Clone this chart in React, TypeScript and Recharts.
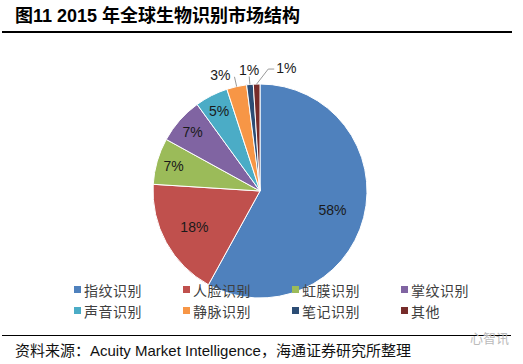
import { PieChart, Pie, Cell } from 'recharts';

const names = ['指纹识别', '人脸识别', '虹膜识别', '掌纹识别', '声音识别', '静脉识别', '笔记识别', '其他'];
const shares = [58, 18, 7, 7, 5, 3, 1, 1];
const colors = ['#4F81BD', '#C0504D', '#9BBB59', '#8064A2', '#4BACC6', '#F79646', '#2C4D75', '#772C2A'];

const data = names.map((name, i) => ({ name, value: shares[i] }));

const FONT = "'Liberation Sans', Arial, 'Noto Sans CJK SC', sans-serif";
const RADIAN = Math.PI / 180;

const polar = (cx: number, cy: number, r: number, angle: number) => ({
  x: cx + r * Math.cos(-angle * RADIAN),
  y: cy + r * Math.sin(-angle * RADIAN),
});

const renderLabel = (props: any) => {
  const { cx, cy, midAngle, outerRadius, value, index } = props;
  const text = `${value}%`;
  if (value >= 5) {
    const k = value >= 10 ? 0.7 : 0.84;
    const p = polar(cx, cy, outerRadius * k, midAngle);
    return (
      <text x={p.x} y={p.y} fill="#1a1a1a" fontSize={14} fontFamily={FONT} textAnchor="middle" dominantBaseline="central">
        {text}
      </text>
    );
  }
  // small slices: outside with leader line
  const firstSmall = shares.findIndex((v) => v < 5);
  const k = index - firstSmall;
  const start = polar(cx, cy, outerRadius, midAngle);
  if (k === 0) {
    const e = polar(cx, cy, outerRadius + 10, midAngle);
    return (
      <g>
        <polyline points={`${start.x},${start.y} ${e.x},${e.y}`} stroke="#999" fill="none" strokeWidth={1} />
        <text x={e.x - 4} y={e.y - 2} fill="#1a1a1a" fontSize={14} fontFamily={FONT} textAnchor="end" dominantBaseline="central">
          {text}
        </text>
      </g>
    );
  }
  if (k === 1) {
    const e = polar(cx, cy, outerRadius + 8, midAngle);
    return (
      <g>
        <polyline points={`${start.x},${start.y} ${e.x},${e.y}`} stroke="#999" fill="none" strokeWidth={1} />
        <text x={e.x} y={e.y - 7} fill="#1a1a1a" fontSize={14} fontFamily={FONT} textAnchor="middle" dominantBaseline="central">
          {text}
        </text>
      </g>
    );
  }
  const m = polar(cx, cy, outerRadius + 13, midAngle);
  const e = { x: m.x + 12, y: m.y - 2 };
  return (
    <g>
      <polyline points={`${start.x},${start.y} ${e.x},${e.y} ${e.x + 6},${e.y}`} stroke="#999" fill="none" strokeWidth={1} />
      <text x={e.x + 8} y={e.y - 1} fill="#1a1a1a" fontSize={14} fontFamily={FONT} textAnchor="start" dominantBaseline="central">
        {text}
      </text>
    </g>
  );
};

export default function App() {
  return (
    <div style={{ position: 'fixed', left: 0, top: 0, width: 523, height: 364, background: '#fff', fontFamily: FONT, overflow: 'hidden' }}>
      <div style={{ position: 'absolute', left: 15, top: 5, fontSize: 18, fontWeight: 'bold', color: '#000', whiteSpace: 'nowrap', lineHeight: '22px' }}>
        图11 2015 年全球生物识别市场结构
      </div>
      <div style={{ position: 'absolute', left: 2, top: 31, width: 510, height: 1.5, background: '#000' }} />

      <div style={{ position: 'absolute', left: 0, top: 0 }}>
        <PieChart width={523} height={364} margin={{ top: 0, right: 0, bottom: 0, left: 0 }}>
          <Pie
            data={data}
            dataKey="value"
            nameKey="name"
            cx={260}
            cy={191}
            outerRadius={107}
            startAngle={90}
            endAngle={-270}
            stroke="#fff"
            strokeWidth={1}
            label={renderLabel}
            labelLine={false}
            isAnimationActive={false}
          >
            {data.map((d, i) => (
              <Cell key={d.name} fill={colors[i]} />
            ))}
          </Pie>
        </PieChart>
      </div>

      <div style={{ position: 'absolute', left: 74, top: 279, width: 440, display: 'grid', gridTemplateColumns: 'repeat(4, 109px)', rowGap: 0 }}>
        {names.map((n, i) => (
          <div key={n} style={{ display: 'flex', alignItems: 'center', height: 21, fontSize: 14, color: '#404040', fontFamily: "'Noto Sans CJK SC', sans-serif" }}>
            <span style={{ display: 'inline-block', width: 7, height: 7, background: colors[i], marginRight: 3 }} />
            <span style={{ letterSpacing: 0.5 }}>{n}</span>
          </div>
        ))}
      </div>

      <div style={{ position: 'absolute', left: 2, top: 335, width: 509, height: 1, background: '#000' }} />
      <div style={{ position: 'absolute', left: 15, top: 341, fontSize: 15, color: '#111', whiteSpace: 'nowrap', lineHeight: '20px' }}>
        资料来源：Acuity Market Intelligence，海通证券研究所整理
      </div>
      <div style={{ position: 'absolute', left: 470, top: 331, fontSize: 13, color: '#bbb', whiteSpace: 'nowrap', lineHeight: '16px' }}>
        心智讯
      </div>
    </div>
  );
}
